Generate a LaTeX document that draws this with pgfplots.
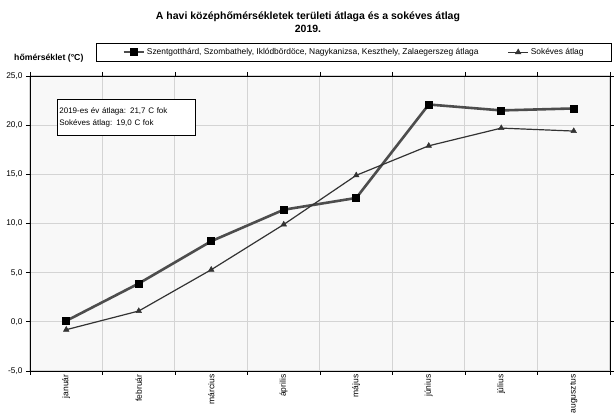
\documentclass[border=0pt]{standalone}
\usepackage{fontspec}
\setmainfont{Liberation Sans}
\usepackage{pgfplots}
\pgfplotsset{compat=1.18}
\definecolor{gridc}{HTML}{D4D4D4}
\definecolor{bgc}{HTML}{F8F8F8}
\definecolor{lineA}{HTML}{4D4D4D}
\definecolor{lineB}{HTML}{333333}
\begin{document}%
\begin{tikzpicture}[x=1pt,y=1pt]%
\node[font=\bfseries\fontsize{10.5}{12.5}\selectfont, align=center] at (308,392) {A havi középhőmérsékletek területi átlaga és a sokéves átlag\\2019.};
\node[font=\bfseries\fontsize{8.7}{10}\selectfont, anchor=west, inner sep=0pt] at (14,356) {hőmérséklet (°C)};
\begin{axis}[
  at={(30pt,43pt)}, anchor=south west, scale only axis,
  width=580pt, height=295pt,
  xmin=-0.5, xmax=7.5, ymin=-5, ymax=25,
  /pgf/number format/assume math mode=true,
  axis background/.style={fill=bgc},
  axis line style={black, line width=0.9pt},
  ytick={-5,0,...,25},
  yticklabel style={font=\fontsize{8.3}{9}\selectfont, /pgf/number format/fixed, /pgf/number format/fixed zerofill, /pgf/number format/precision=1, /pgf/number format/use comma},
  ymajorgrids, xmajorgrids,
  grid style={gridc, line width=1pt},
  tick align=outside, major tick length=4pt,
  tick style={black, line width=0.8pt},
  xtick={-0.5,0.5,...,7.5},
  xticklabels={,,},
  extra x ticks={0,1,2,3,4,5,6,7},
  extra x tick labels={január,február,március,április,május,június,július,augusztus},
  extra x tick style={grid=none, major tick length=0pt, tick label style={rotate=90, anchor=east, font=\fontsize{8.5}{9}\selectfont}},
  legend columns=2,
  legend style={at={(1.0034,1.112)}, anchor=north east, draw=black, line width=0.8pt, fill=white,
    font=\fontsize{8.4}{9}\selectfont, inner xsep=26pt, inner ysep=3pt,
    /tikz/column 2/.style={column sep=27pt}},
  legend image code/.code={\draw[mark repeat=2,mark phase=2,#1] plot coordinates {(0pt,0pt)(10pt,0pt)(20pt,0pt)};},
  clip=false,
]
\addplot[color=lineA, line width=2.6pt, mark=square*, mark size=3.5pt, mark options={fill=black, draw=black, line width=0.5pt}]
  coordinates {(0,0.1)(1,3.9)(2,8.2)(3,11.4)(4,12.6)(5,22.1)(6,21.5)(7,21.7)};
\addlegendentry{Szentgotthárd, Szombathely, Iklódbördöce, Nagykanizsa, Keszthely, Zalaegerszeg átlaga}
\addplot[color=lineB, line width=1.2pt, mark=triangle*, mark size=3.2pt, mark options={fill=lineB, draw=lineB, line width=0.5pt}]
  coordinates {(0,-0.8)(1,1.1)(2,5.3)(3,9.9)(4,14.9)(5,17.9)(6,19.7)(7,19.4)};
\addlegendentry{Sokéves átlag}
\end{axis}
\node[draw=black, line width=0.8pt, fill=white, anchor=north west, text width=134pt, inner xsep=2pt, minimum height=36pt, align=left, font=\fontsize{8}{12}\selectfont] at (57,315) {2019-es év átlaga: 21,7 C fok\\Sokéves átlag: 19,0 C fok};
\pgfresetboundingbox
\useasboundingbox (0,0) rectangle (614,414);
\end{tikzpicture}%
\end{document}
